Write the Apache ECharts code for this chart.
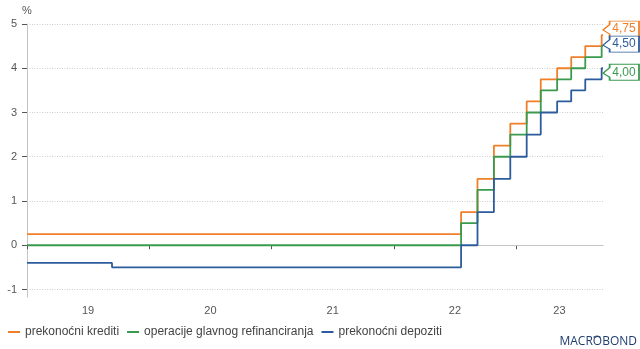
<!DOCTYPE html>
<html>
<head>
<meta charset="utf-8">
<script src="https://cdn.jsdelivr.net/npm/echarts@6/dist/echarts.min.js"></script>
<style>
  html, body { margin: 0; padding: 0; background: #ffffff; }
  #chart { width: 640px; height: 349px; }
</style>
</head>
<body>
<div id="chart"></div>
<script>
// ECB key interest rates, % (values change on the listed decision dates)
const rateDates = ['2019-01-01', '2019-09-12', '2022-07-21', '2022-09-08', '2022-10-27', '2022-12-15',
                   '2023-02-02', '2023-03-16', '2023-05-04', '2023-06-15', '2023-07-27', '2023-09-14', '2023-09-18'];
const lendingRate = [0.25, 0.25, 0.75, 1.50, 2.25, 2.75, 3.25, 3.75, 4.00, 4.25, 4.50, 4.75, 4.75];
const refiRate    = [0.00, 0.00, 0.50, 1.25, 2.00, 2.50, 3.00, 3.50, 3.75, 4.00, 4.25, 4.50, 4.50];
const depositRate = [-0.40, -0.50, 0.00, 0.75, 1.50, 2.00, 2.50, 3.00, 3.25, 3.50, 3.75, 4.00, 4.00];

const seriesNames = ['prekonoćni krediti', 'operacije glavnog refinanciranja', 'prekonoćni depoziti'];

const yTicks = [-1, 0, 1, 2, 3, 4, 5];
const yearStarts = ['2019-01-01', '2020-01-01', '2021-01-01', '2022-01-01', '2023-01-01'];
const yearLabels = ['19', '20', '21', '22', '23'];
const axisEnd = '2023-09-18';

// ---- presentation ----
const lineColors = ['#f07f2a', '#3a9a4e', '#2d5c9c'];
const calloutColors = ['#f07f2a', '#2d5c9c', '#3a9a4e'];
const calloutShift = [-6, -2, 4];
const textFont = '"Liberation Sans", Arial, sans-serif';

const startTs = Date.parse(yearStarts[0]);
const endTs = Date.parse(axisEnd);
const yearTicks = yearStarts.map(d => Date.parse(d));
// year labels sit in the middle of the visible part of each year
const yearLabelPos = yearTicks.map((t, i) => {
  const next = i + 1 < yearTicks.length ? yearTicks[i + 1] : endTs;
  return Math.round((t + next) / 2);
});

const fmt = v => v.toFixed(2).replace('.', ',');

function makeSeries(idx, values) {
  const data = rateDates.map((d, i) => [Date.parse(d), values[i]]);
  const last = data[data.length - 1];
  const s = {
    name: seriesNames[idx],
    type: 'line',
    step: 'end',
    data: data,
    symbol: 'none',
    color: lineColors[idx],
    lineStyle: { width: 1.8, color: lineColors[idx] },
    emphasis: { disabled: true },
    animation: false,
    markPoint: {
      silent: true,
      animation: false,
      symbol: 'path://M0,9L7,3.5L7,0L38,0L38,16L7,16L7,13Z',
      symbolSize: [36, 16],
      symbolOffset: [18, calloutShift[idx]],
      itemStyle: { color: '#ffffff', borderColor: calloutColors[idx], borderWidth: 1.2 },
      label: {
        show: true,
        position: 'inside',
        offset: [3, 0],
        color: calloutColors[idx],
        fontSize: 12,
        fontFamily: textFont,
        formatter: p => fmt(p.value)
      },
      data: [{ coord: last, value: last[1] }]
    }
  };
  if (idx === 0) {
    s.markLine = {
      silent: true,
      animation: false,
      z: 1,
      symbol: 'none',
      label: { show: false },
      lineStyle: { color: '#c4c4c4', type: 'solid', width: 1 },
      data: [{ yAxis: 0 }]
    };
  }
  return s;
}

const chart = echarts.init(document.getElementById('chart'), null, { renderer: 'canvas' });

chart.setOption({
  backgroundColor: '#ffffff',
  animation: false,
  grid: { left: 27, right: 37, top: 24, bottom: 52 },
  xAxis: {
    type: 'value',
    min: startTs,
    max: endTs,
    axisLine: { show: true, lineStyle: { color: '#c4c4c4', width: 1 } },
    axisTick: { show: true, length: 4, lineStyle: { color: '#555555' }, customValues: yearTicks },
    axisLabel: {
      customValues: yearLabelPos,
      color: '#555555',
      fontSize: 11,
      fontFamily: textFont,
      margin: 8,
      formatter: v => {
        const i = yearLabelPos.indexOf(v);
        return i >= 0 ? yearLabels[i] : '';
      }
    },
    splitLine: { show: false }
  },
  yAxis: {
    type: 'value',
    min: -1.17,
    max: 5,
    name: '%',
    nameLocation: 'end',
    nameGap: 8,
    nameTextStyle: { color: '#555555', fontSize: 11, fontFamily: textFont, align: 'center' },
    axisLine: { show: true, lineStyle: { color: '#c4c4c4', width: 1 } },
    axisTick: { show: true, length: 5, lineStyle: { color: '#555555' }, customValues: yTicks },
    axisLabel: {
      customValues: yTicks,
      color: '#555555',
      fontSize: 11,
      fontFamily: textFont,
      margin: 10,
      formatter: v => String(v)
    },
    splitLine: { show: true, lineStyle: { color: '#cccccc', type: [1, 1.5], width: 1 } }
  },
  legend: {
    left: 3,
    top: 321,
    icon: 'rect',
    itemWidth: 12,
    itemHeight: 2,
    itemGap: 8,
    selectedMode: false,
    textStyle: { color: '#444444', fontSize: 12, fontFamily: textFont },
    data: seriesNames
  },
  graphic: [
    {
      type: 'text',
      right: 3,
      top: 336,
      style: { text: 'MACROBOND', font: '500 12px "Open Sans", sans-serif', fill: '#1f3d6e' }
    },
    {
      type: 'arc',
      shape: { cx: 597, cy: 341, r: 5, startAngle: Math.PI * 1.25, endAngle: Math.PI * 1.75 },
      style: { stroke: '#1f3d6e', lineWidth: 1.1, fill: null }
    }
  ],
  series: [
    makeSeries(0, lendingRate),
    makeSeries(1, refiRate),
    makeSeries(2, depositRate)
  ]
});
</script>
</body>
</html>
